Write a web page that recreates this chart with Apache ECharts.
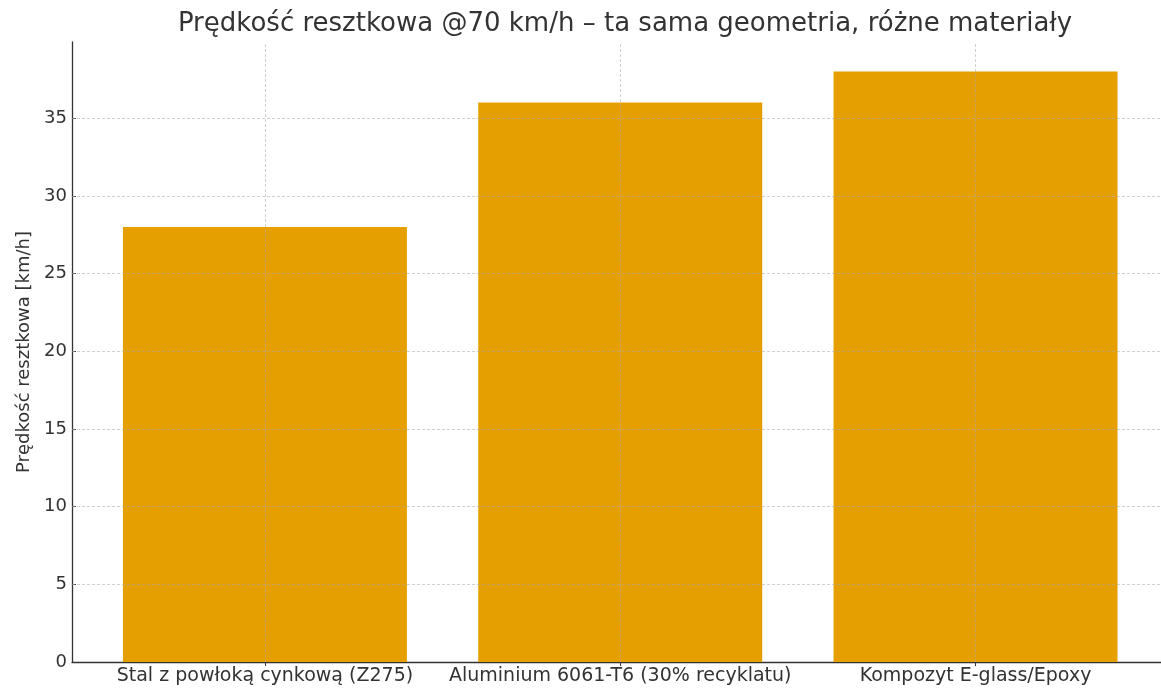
<!DOCTYPE html>
<html style="height: 100%">
  <head>
    <meta charset="UTF-8" />
    <title>Prędkość resztkowa</title>
    <script src="https://cdn.jsdelivr.net/npm/echarts@6/dist/echarts.min.js"></script>
  </head>
  <body style="height: 100%; margin: 0; background: #fff">
    <div id="main" style="width: 1161px; height: 688px"></div>
    <script>
      // dane
      var categories = [
        'Stal z powłoką cynkową (Z275)',
        'Aluminium 6061-T6 (30% recyklatu)',
        'Kompozyt E-glass/Epoxy',
      ];
      var speeds = [28, 36, 38];
      var yTicks = [0, 5, 10, 15, 20, 25, 30, 35];
      var xTicks = [0, 1, 2];

      var chart = echarts.init(document.getElementById('main'));

      // siatka rysowana jako markLine (przerywana, szara)
      var gridStyle = { color: 'rgba(170,170,170,0.55)', type: [3, 2], width: 1 };

      var option = {
        animation: false,
        textStyle: { fontFamily: 'DejaVu Sans' },
        title: {
          text: 'Prędkość resztkowa @70 km/h – ta sama geometria, różne materiały',
          left: 620,
          top: 6,
          textAlign: 'center',
          textStyle: { fontSize: 26, fontWeight: 'normal', color: '#333', fontFamily: 'DejaVu Sans' },
        },
        grid: { left: 72, top: 42, right: 0, bottom: 26, containLabel: false },
        xAxis: {
          type: 'value',
          min: -0.543,
          max: 2.522,
          axisLine: { show: true, onZero: false, lineStyle: { color: '#333', width: 1.3 } },
          axisTick: { show: true, customValues: xTicks, length: 4, lineStyle: { color: '#333' } },
          axisLabel: {
            customValues: xTicks,
            margin: 5,
            fontSize: 19,
            color: '#333',
            formatter: function (v) {
              return categories[Math.round(v)];
            },
          },
          splitLine: { show: false },
        },
        yAxis: {
          type: 'value',
          min: 0,
          max: 39.9,
          name: 'Prędkość resztkowa [km/h]',
          nameLocation: 'middle',
          nameGap: 38,
          nameTextStyle: { fontSize: 18, color: '#333' },
          axisLine: { show: true, onZero: false, lineStyle: { color: '#333', width: 1.3 } },
          axisTick: { show: true, inside: true, customValues: yTicks, length: 4, lineStyle: { color: '#333' } },
          axisLabel: { customValues: yTicks, margin: 5, fontSize: 18, color: '#333' },
          splitLine: { show: false },
        },
        series: [
          {
            type: 'bar',
            data: speeds.map(function (v, i) {
              return [i, v];
            }),
            barWidth: 284,
            itemStyle: { color: '#E69F00' },
            markLine: {
              silent: true,
              symbol: 'none',
              label: { show: false },
              lineStyle: gridStyle,
              data: xTicks
                .map(function (t) {
                  return { xAxis: t };
                })
                .concat(
                  yTicks.slice(1).map(function (t) {
                    return { yAxis: t };
                  }),
                ),
            },
          },
        ],
      };

      chart.setOption(option);
    </script>
  </body>
</html>
